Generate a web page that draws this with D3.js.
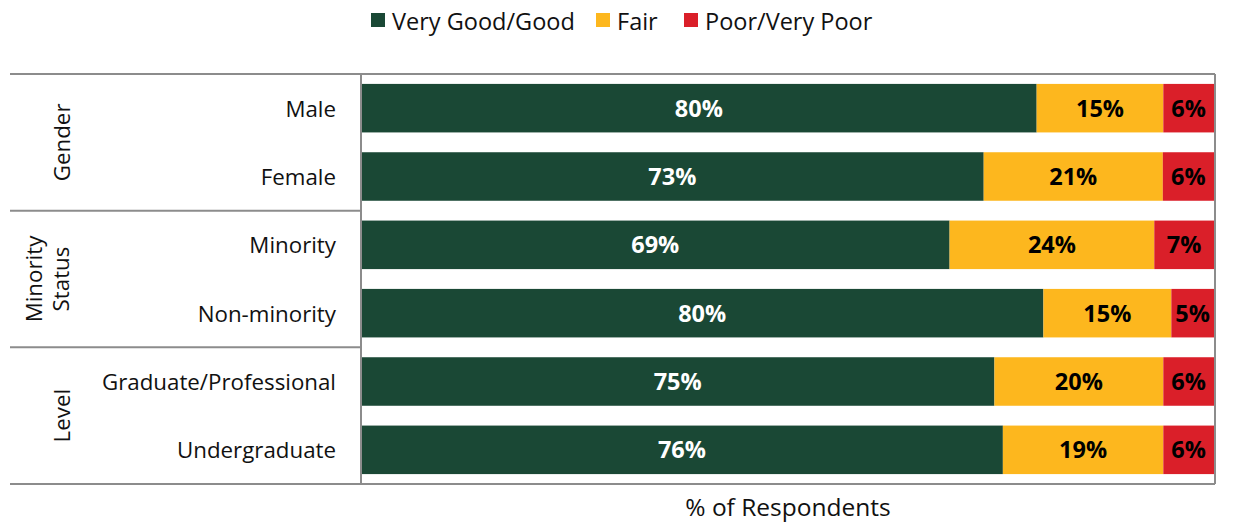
<!DOCTYPE html>
<html>
<head>
<meta charset="utf-8">
<script src="https://cdn.jsdelivr.net/npm/d3@7"></script>
<style>
  html, body { margin: 0; padding: 0; background: #fff; }
  svg { display: block; font-family: "Open Sans", "Noto Sans", sans-serif; }
</style>
</head>
<body>
<svg id="chart" width="1233" height="524"></svg>
<script>
// Respondent groups and their ratings (percent of respondents)
const groups = ["Gender", "Minority Status", "Level"];
const categories = ["Male", "Female", "Minority", "Non-minority", "Graduate/Professional", "Undergraduate"];
const categoryGroup = ["Gender", "Gender", "Minority Status", "Minority Status", "Level", "Level"];
const seriesNames = ["Very Good/Good", "Fair", "Poor/Very Poor"];
const veryGoodGood = [80, 73, 69, 80, 75, 76];
const fair = [15, 21, 24, 15, 20, 19];
const poorVeryPoor = [6, 6, 7, 5, 6, 6];
const colors = ["#1a4835", "#fdb71e", "#da1f29"];
const labelColors = ["#ffffff", "#000000", "#000000"];
const axisTitle = "% of Respondents";

const rows = categories.map((c, i) => ({
  category: c,
  group: categoryGroup[i],
  [seriesNames[0]]: veryGoodGood[i],
  [seriesNames[1]]: fair[i],
  [seriesNames[2]]: poorVeryPoor[i]
}));

const svg = d3.select("#chart");
const plot = { left: 361, right: 1215, top: 74, bottom: 484 };
const frameLeft = 10;

// 100% stacked: each row is scaled to its own total
const stacked = d3.stack().keys(seriesNames).offset(d3.stackOffsetExpand)(rows);

const x = d3.scaleLinear().domain([0, 1]).range([plot.left, plot.right - 1]);
const y = d3.scaleBand().domain(categories).range([plot.top, plot.bottom]).paddingInner(0.29).paddingOuter(0.145);

// Bars
const layer = svg.append("g").selectAll("g")
  .data(stacked)
  .join("g")
  .attr("fill", (d, i) => colors[i]);

layer.selectAll("rect")
  .data(d => d)
  .join("rect")
  .attr("x", d => x(d[0]))
  .attr("width", d => x(d[1]) - x(d[0]))
  .attr("y", d => y(d.data.category))
  .attr("height", y.bandwidth());

// Value labels
const valueArrays = [veryGoodGood, fair, poorVeryPoor];
stacked.forEach((s, si) => {
  svg.append("g").selectAll("text")
    .data(s)
    .join("text")
    .attr("x", d => (x(d[0]) + x(d[1])) / 2)
    .attr("y", d => y(d.data.category) + y.bandwidth() / 2)
    .attr("dy", "0.36em")
    .attr("text-anchor", "middle")
    .attr("font-size", 23.5)
    .attr("font-weight", "bold")
    .attr("fill", labelColors[si])
    .text((d, i) => valueArrays[si][i] + "%");
});

// Frame lines
const lineColor = "#8c8c8c";
const frame = svg.append("g").attr("stroke", lineColor).attr("stroke-width", 2).attr("fill", "none");
frame.append("line").attr("x1", frameLeft).attr("x2", plot.right).attr("y1", plot.top).attr("y2", plot.top);
frame.append("line").attr("x1", frameLeft).attr("x2", plot.right).attr("y1", plot.bottom).attr("y2", plot.bottom);
frame.append("line").attr("x1", plot.left).attr("x2", plot.left).attr("y1", plot.top).attr("y2", plot.bottom);
frame.append("line").attr("x1", plot.right).attr("x2", plot.right).attr("y1", plot.top).attr("y2", plot.bottom);

// Group boundaries on the category axis
const step = y.step();
const groupSpans = groups.map(g => {
  const members = categories.filter((c, i) => categoryGroup[i] === g);
  const y0 = y(members[0]) - y.paddingInner() * step / 2;
  const y1 = y(members[members.length - 1]) + y.bandwidth() + y.paddingInner() * step / 2;
  return { name: g, y0: Math.max(y0, plot.top), y1: Math.min(y1, plot.bottom) };
});
groupSpans.slice(0, -1).forEach(gs => {
  frame.append("line").attr("x1", frameLeft).attr("x2", plot.left).attr("y1", gs.y1).attr("y2", gs.y1);
});

// Category labels
const yAxis = d3.axisLeft(y).tickSize(0).tickPadding(25);
const ya = svg.append("g").attr("transform", `translate(${plot.left},0)`).call(yAxis);
ya.select(".domain").remove();
ya.selectAll("text").attr("font-size", 22.3).attr("fill", "#111").attr("dy", "0.38em")
  .attr("font-family", "\"Open Sans\", sans-serif");

// Group labels (rotated, wrapped onto lines)
groupSpans.forEach(gs => {
  const words = gs.name.split(" ");
  const cy = (gs.y0 + gs.y1) / 2;
  const lineH = 27;
  const cx = 62 - (words.length - 1) * (lineH + 1);
  const t = svg.append("text")
    .attr("transform", `translate(${cx},${cy}) rotate(-90)`)
    .attr("text-anchor", "middle")
    .attr("font-size", 22.3)
    .attr("fill", "#111");
  words.forEach((w, i) => {
    t.append("tspan").attr("x", 0).attr("dy", i === 0 ? "0.36em" : lineH).text(w);
  });
});

// Axis title
svg.append("text")
  .attr("x", (plot.left + plot.right) / 2)
  .attr("y", 516)
  .attr("text-anchor", "middle")
  .attr("font-size", 24.5)
  .attr("fill", "#111")
  .text(axisTitle);

// Legend
const legendX = [371, 596, 684];
const legend = svg.append("g");
seriesNames.forEach((name, i) => {
  legend.append("rect").attr("x", legendX[i]).attr("y", 13).attr("width", 14).attr("height", 14).attr("fill", colors[i]);
  legend.append("text").attr("x", legendX[i] + 21).attr("y", 21.5).attr("dy", "0.36em")
    .attr("font-size", 23.5).attr("fill", "#111").text(name);
});
</script>
</body>
</html>
